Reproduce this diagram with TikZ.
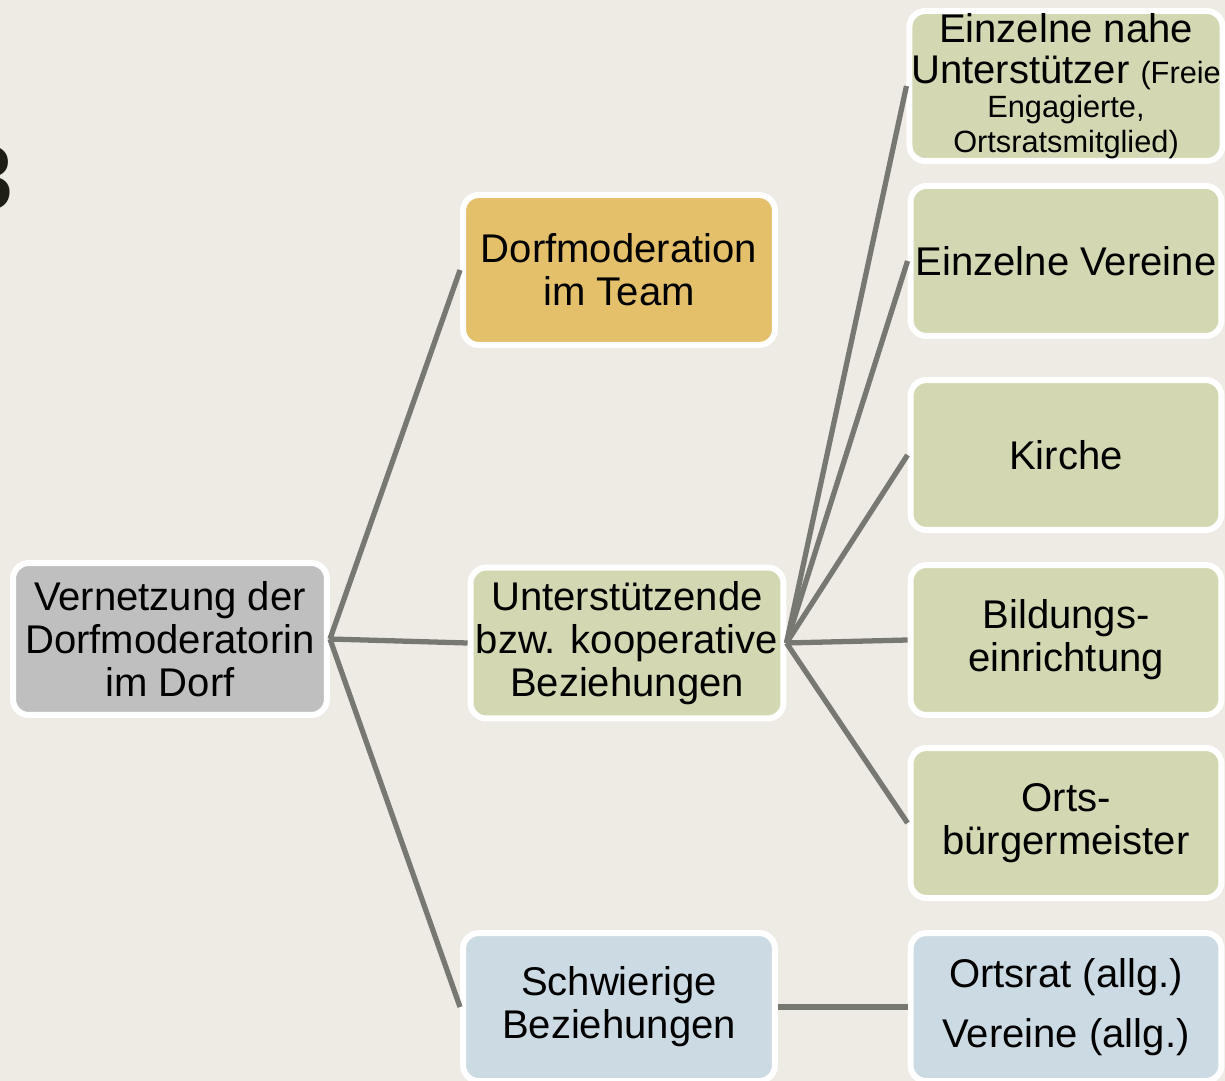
\documentclass[tikz,border=0pt]{standalone}
\usepackage{fontspec}
\setmainfont{Liberation Sans}
\definecolor{paper}{HTML}{EEEBE4}
\definecolor{rootgray}{HTML}{BFBFBF}
\definecolor{teamgold}{HTML}{E4C06A}
\definecolor{coopgreen}{HTML}{D3D8B3}
\definecolor{hardblue}{HTML}{CCDAE3}
\definecolor{linkgray}{HTML}{787872}
\definecolor{numdark}{HTML}{1E1E14}
\newcommand{\smalltxt}{\fontsize{17.5}{19}\selectfont}
\begin{document}
\begin{tikzpicture}[x=0.02cm,y=-0.02cm,
	box/.style={draw=white, line width=3.4pt, rounded corners=9pt, align=center,
		font=\fontsize{22.8}{24.5}\selectfont, inner sep=1pt,
		minimum width=6.24cm, minimum height=3cm},
	link/.style={draw=linkgray, line width=3pt}]
	\clip (0,0) rectangle (1225,1081);
	\fill[paper] (0,0) rectangle (1225,1081);
	
	\node[anchor=east, inner sep=0pt, text=numdark, font=\fontsize{52}{52}\selectfont\bfseries] (num) at (14,178) {3};
	
	\node[box, fill=rootgray, minimum width=6.28cm, minimum height=3.04cm] (root) at (170,639) {Vernetzung der\\Dorfmoderatorin\\im Dorf};
	\node[box, fill=teamgold] (team) at (619,270) {Dorfmoderation\\im Team};
	\node[box, fill=coopgreen, minimum width=6.26cm, minimum height=3.02cm] (coop) at (627,643) {Unterstützende\\bzw. kooperative\\Beziehungen};
	\node[box, fill=hardblue, minimum height=2.96cm] (hard) at (619,1007) {Schwierige\\Beziehungen};
	
	\node[box, fill=coopgreen, minimum width=6.22cm] (near) at (1066,86) {Einzelne nahe\\[-1pt]Unterstützer {\smalltxt(Freie}\\[-5pt]{\smalltxt Engagierte,}\\[-5pt]{\smalltxt Ortsratsmitglied)}};
	\node[box, fill=coopgreen, minimum width=6.22cm] (clubs) at (1066,261) {Einzelne Vereine};
	\node[box, fill=coopgreen, minimum width=6.22cm] (church) at (1066,455) {Kirche};
	\node[box, fill=coopgreen, minimum width=6.22cm] (school) at (1066,640) {Bildungs-\\einrichtung};
	\node[box, fill=coopgreen, minimum width=6.22cm] (mayor) at (1066,823) {Orts-\\bürgermeister};
	\node[box, fill=hardblue, minimum width=6.22cm, minimum height=2.96cm] (council) at (1066,1007) {Ortsrat (allg.)\\[10pt]Vereine (allg.)};
	
	\draw[link] (root.east) -- (team.west);
	\draw[link] (root.east) -- (coop.west);
	\draw[link] (root.east) -- (hard.west);
	
	\draw[link] (coop.east) -- (near.west);
	\draw[link] (coop.east) -- (clubs.west);
	\draw[link] (coop.east) -- (church.west);
	\draw[link] (coop.east) -- (school.west);
	\draw[link] (coop.east) -- (mayor.west);
	
	\draw[link] (hard.east) -- (council.west);
\end{tikzpicture}
\end{document}
